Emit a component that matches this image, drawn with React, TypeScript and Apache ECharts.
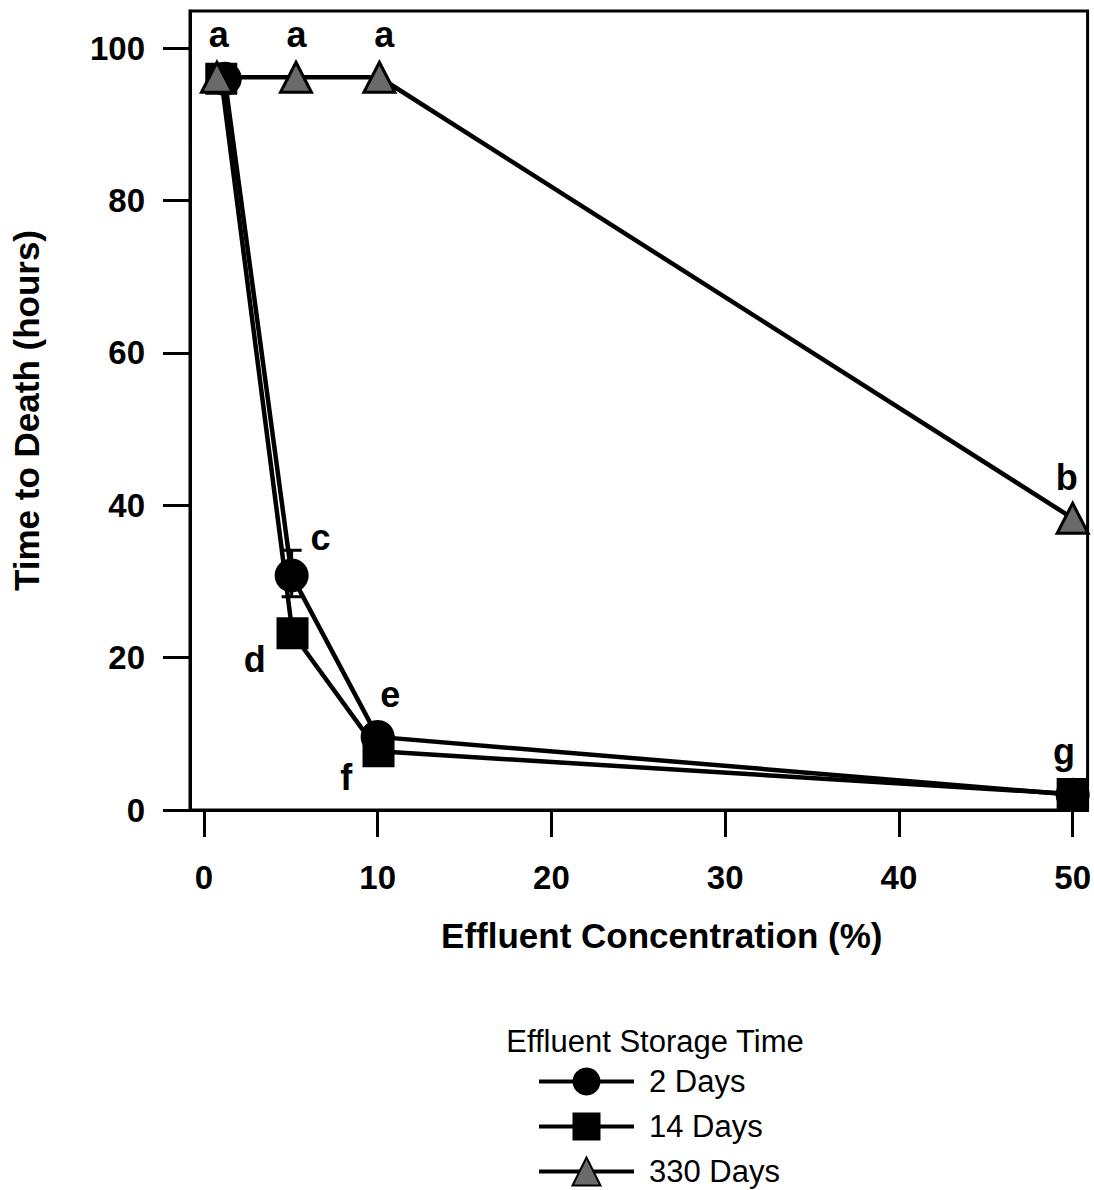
import React, { useEffect, useRef } from "react";
import * as echarts from "echarts";

// Effluent concentration (%) and time to death (hours) for each storage time
const conc2 = [1.2, 5.05, 10, 50];
const hours2 = [96, 30.8, 9.6, 2.0];
const conc14 = [1.0, 5.1, 10.05, 50];
const hours14 = [96, 23.2, 7.7, 2.1];
const conc330 = [0.75, 5.3, 10.1, 50];
const hours330 = [96.2, 96.2, 96.2, 38.3];

// error bar (2 days at 5%)
const errX = [5.05];
const errLow = [28.0];
const errHigh = [34.1];

// significance letters
const letterText = ["a", "a", "a", "b", "c", "d", "e", "f", "g"];
const letterX = [0.86, 5.33, 10.38, 49.66, 6.71, 2.92, 10.72, 8.2, 49.5];
const letterY = [101.8, 101.8, 101.8, 43.7, 35.8, 19.8, 15.1, 4.3, 7.7];

const xTicks = [0, 10, 20, 30, 40, 50];
const yTicks = [0, 20, 40, 60, 80, 100];
const legendNames = ["2 Days", "14 Days", "330 Days"];

const FONT = '"Liberation Sans", Arial, Helvetica, sans-serif';

function zip(xs: number[], ys: number[]) {
  return xs.map((x, i) => [x, ys[i]]);
}

export default function App() {
  const ref = useRef<HTMLDivElement>(null);
  useEffect(() => {
    if (!ref.current) return;
    const chart = echarts.init(ref.current, null, { renderer: "svg" });
    const option: any = {
      animation: false,
      backgroundColor: "#fff",
      grid: {
        left: 190,
        top: 11,
        width: 901,
        height: 799,
        show: true,
        borderColor: "#000",
        borderWidth: 3,
        backgroundColor: "transparent",
      },
      xAxis: {
        type: "value",
        min: -0.8,
        max: 50.86,
        splitLine: { show: false },
        axisLine: { show: true, onZero: false, lineStyle: { color: "#000", width: 3 } },
        axisTick: { show: true, inside: false, length: 27, lineStyle: { color: "#000", width: 3 }, customValues: xTicks },
        axisLabel: { customValues: xTicks, margin: 51, fontSize: 33, fontWeight: "bold", color: "#000", fontFamily: FONT },
        name: "Effluent Concentration (%)",
        nameLocation: "middle",
        nameGap: 108,
        nameTextStyle: { fontSize: 35, fontWeight: "bold", color: "#000", fontFamily: FONT, padding: [0, 0, 0, 46] },
      },
      yAxis: {
        type: "value",
        min: 0,
        max: 104.9,
        splitLine: { show: false },
        axisLine: { show: true, onZero: false, lineStyle: { color: "#000", width: 3 } },
        axisTick: { show: true, inside: false, length: 27, lineStyle: { color: "#000", width: 3 }, customValues: yTicks },
        axisLabel: { customValues: yTicks, margin: 45, fontSize: 33, fontWeight: "bold", color: "#000", fontFamily: FONT },
        name: "Time to Death (hours)",
        nameLocation: "middle",
        nameGap: 146,
        nameTextStyle: { fontSize: 35, fontWeight: "bold", color: "#000", fontFamily: FONT },
      },
      legend: {
        data: legendNames,
        orient: "vertical",
        left: 537,
        top: 1066,
        padding: 0,
        itemWidth: 95,
        itemHeight: 35,
        itemGap: 14,
        lineStyle: { width: 4, color: "#000" },
        textStyle: { fontSize: 31, color: "#000", fontFamily: FONT, padding: [0, 0, 0, 10] },
      },
      graphic: [
        {
          type: "text",
          x: 655,
          y: 1041,
          style: {
            text: "Effluent Storage Time",
            fontSize: 31,
            fontFamily: FONT,
            fill: "#000",
            textAlign: "center",
            textVerticalAlign: "middle",
          },
        },
      ],
      series: [
        {
          type: "custom",
          name: "errorbar",
          silent: true,
          z: 1,
          data: errX.map((x, i) => [x, errLow[i], errHigh[i]]),
          renderItem: (params: any, api: any) => {
            const x = api.value(0);
            const lo = api.coord([x, api.value(1)]);
            const hi = api.coord([x, api.value(2)]);
            const hw = 10;
            const st = { stroke: "#000", lineWidth: 3 };
            return {
              type: "group",
              children: [
                { type: "line", shape: { x1: lo[0], y1: lo[1], x2: hi[0], y2: hi[1] }, style: st },
                { type: "line", shape: { x1: lo[0] - hw, y1: lo[1], x2: lo[0] + hw, y2: lo[1] }, style: st },
                { type: "line", shape: { x1: hi[0] - hw, y1: hi[1], x2: hi[0] + hw, y2: hi[1] }, style: st },
              ],
            };
          },
        },
        {
          name: "14 Days",
          type: "line",
          data: zip(conc14, hours14),
          symbol: "rect",
          symbolSize: 32,
          lineStyle: { color: "#000", width: 4.5 },
          itemStyle: { color: "#000" },
          z: 2,
        },
        {
          name: "2 Days",
          type: "line",
          data: zip(conc2, hours2),
          symbol: "circle",
          symbolSize: 34,
          lineStyle: { color: "#000", width: 4.5 },
          itemStyle: { color: "#000" },
          z: 3,
        },
        {
          name: "330 Days",
          type: "line",
          data: zip(conc330, hours330),
          symbol: "triangle",
          symbolSize: [31, 30],
          lineStyle: { color: "#000", width: 4.5 },
          itemStyle: { color: "#6a6a6a", borderColor: "#000", borderWidth: 3 },
          z: 4,
        },
        {
          type: "scatter",
          name: "letters",
          silent: true,
          symbolSize: 0,
          z: 5,
          itemStyle: { opacity: 1, color: "#000" },
          data: letterText.map((t, i) => ({ name: t, value: [letterX[i], letterY[i]] })),
          label: {
            show: true,
            position: "inside",
            formatter: "{b}",
            fontSize: 36,
            fontWeight: "bold",
            color: "#000",
            opacity: 1,
            fontFamily: FONT,
          },
        },
      ],
    };
    chart.setOption(option);
    return () => chart.dispose();
  }, []);
  return (
    <div
      ref={ref}
      style={{ position: "absolute", left: 0, top: 0, width: 1094, height: 1190 }}
    />
  );
}
